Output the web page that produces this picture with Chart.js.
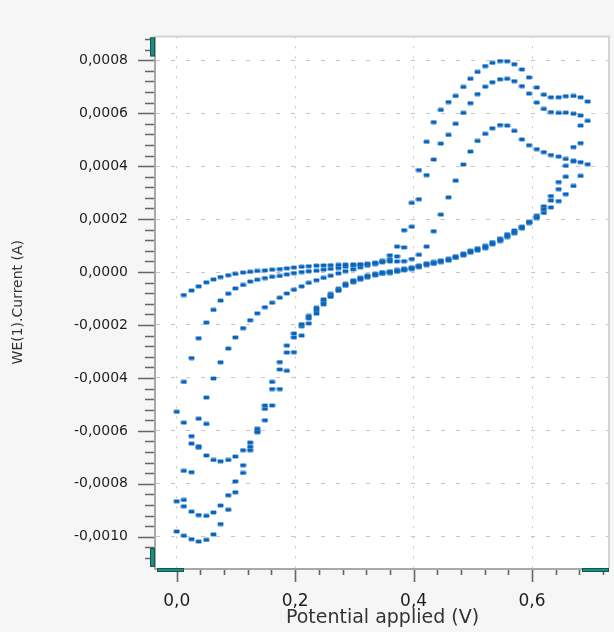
<!DOCTYPE html>
<html>
<head>
<meta charset="utf-8">
<style>
  html, body { margin: 0; padding: 0; background: #f6f6f6; }
  canvas { display: block; }
</style>
</head>
<body>
<canvas id="cv" width="614" height="632"></canvas>
<script src="https://cdn.jsdelivr.net/npm/chart.js@4.4.1/dist/chart.umd.min.js"></script>
<script>
// Potential steps of the scan (V), k = 0 ... 56
const potential = [
  0.000, 0.012, 0.025, 0.037, 0.050, 0.062, 0.074, 0.087, 0.099, 0.112,
  0.124, 0.136, 0.149, 0.161, 0.174, 0.186, 0.198, 0.211, 0.223, 0.236,
  0.248, 0.260, 0.273, 0.285, 0.298, 0.310, 0.322, 0.335, 0.347, 0.360,
  0.372, 0.384, 0.397, 0.409, 0.422, 0.434, 0.446, 0.459, 0.471, 0.484,
  0.496, 0.508, 0.521, 0.533, 0.546, 0.558, 0.570, 0.583, 0.595, 0.608,
  0.620, 0.632, 0.645, 0.657, 0.670, 0.682, 0.694
];

// Current in microamps, one value per potential step (null = no point)
// forward scans (increasing potential)
const forward1 = [
  null, -87, -70, -54, -39, -28, -19, -12, -7, -2,
  1, 4, 6, 9, 11, 14, 17, 20, 22, 24,
  25, 26, 27, 28, 29, 29, 31, 34, 37, 40,
  40, 41, 49, 65, 96, 154, 217, 282, 345, 406,
  455, 495, 522, 543, 555, 553, 533, 501, 479, 464,
  453, 442, 436, 427, 420, 415, 407
];
const forward2 = [
  null, -415, -325, -250, -191, -143, -108, -82, -62, -49,
  -36, -29, -23, -18, -15, -9, -4, 0, 3, 5,
  9, 12, 15, 20, 24, 27, 30, 35, 42, 48,
  59, 93, 171, 275, 366, 425, 485, 518, 560, 601,
  638, 672, 700, 717, 728, 730, 721, 702, 674, 640,
  616, 604, 601, 602, 598, 591, 571
];
const forward3 = [
  null, -751, -648, -554, -474, -402, -341, -289, -247, -212,
  -182, -156, -133, -116, -97, -81, -67, -54, -41, -31,
  -22, -14, -5, 3, 10, 18, 24, 30, 40, 63,
  96, 158, 261, 385, 492, 566, 612, 642, 665, 699,
  730, 756, 778, 790, 797, 796, 785, 765, 735, 697,
  670, 660, 660, 664, 665, 660, 644
];
// reverse scans (decreasing potential), listed by the same potential steps
const reverse1 = [
  -528, -569, -620, -658, -693, -710, -715, -710, -697, -673,
  -644, -605, -560, -504, -442, -373, -303, -240, -194, -157,
  -122, -94, -70, -49, -35, -25, -17, -10, -4, -1,
  4, 9, 14, 21, 29, 34, 40, 46, 56, 66,
  77, 85, 94, 108, 121, 137, 151, 168, 188, 204,
  223, 244, 268, 294, 325, 363, null
];
const reverse2 = [
  -866, -885, -905, -918, -921, -908, -882, -843, -791, -730,
  -660, -592, -504, -415, -340, -278, -232, -197, -166, -135,
  -103, -83, -63, -44, -31, -21, -13, -6, 0, 3,
  8, 13, 18, 25, 33, 38, 44, 50, 60, 70,
  81, 90, 99, 113, 127, 143, 157, 172, 190, 208,
  236, 270, 313, 360, 418, 487, null
];
const reverse3 = [
  -980, -996, -1009, -1018, -1012, -991, -952, -898, -832, -759,
  -673, -602, -517, -442, -368, -304, -247, -205, -175, -145,
  -112, -88, -68, -52, -39, -29, -21, -13, -7, -4,
  1, 6, 11, 18, 26, 31, 37, 43, 53, 62,
  73, 81, 90, 104, 117, 132, 146, 164, 185, 213,
  248, 287, 340, 401, 472, 553, null
];
// short run of points near the start of the third sweep
const extraPotential = [0.012, 0.025, 0.037, 0.050];
const extraCurrent = [-861, -756, -664, -574];

const xTicks = [0.0, 0.2, 0.4, 0.6];
const yTicks = [-1000, -800, -600, -400, -200, 0, 200, 400, 600, 800];

const FONT = 'DejaVu Sans';

function makeMarker() {
  const c = document.createElement('canvas');
  c.width = 7; c.height = 5;
  const g = c.getContext('2d');
  g.fillStyle = 'rgba(60, 135, 210, 0.5)';
  g.fillRect(0, 0, 7, 5);
  g.clearRect(0, 0, 1, 1); g.clearRect(6, 0, 1, 1);
  g.clearRect(0, 4, 1, 1); g.clearRect(6, 4, 1, 1);
  g.fillStyle = '#0a63bb';
  g.fillRect(1, 1, 5, 3);
  return c;
}
const marker = makeMarker();

function toPoints(xs, ys) {
  return ys.map((y, i) => (y === null ? null : { x: xs[i], y: y })).filter(p => p);
}

const series = [forward1, forward2, forward3, reverse1, reverse2, reverse3];
const datasets = series.map(s => ({ data: toPoints(potential, s) }));
datasets.push({ data: toPoints(extraPotential, extraCurrent) });
datasets.forEach(d => {
  d.pointStyle = marker;
  d.pointRadius = 3;
  d.showLine = false;
});

// background, frame, tick marks and the little teal handles
const framePlugin = {
  id: 'frame',
  beforeDraw(chart) {
    const { ctx, chartArea: a } = chart;
    ctx.save();
    ctx.fillStyle = '#f6f6f6';
    ctx.fillRect(0, 0, chart.width, chart.height);
    ctx.fillStyle = '#ffffff';
    ctx.fillRect(a.left, a.top, a.right - a.left, a.bottom - a.top);
    ctx.restore();
  },
  afterDraw(chart) {
    const { ctx, chartArea: a } = chart;
    const xs = chart.scales.x, ys = chart.scales.y;
    ctx.save();

    ctx.lineWidth = 2;
    ctx.strokeStyle = '#d4d4d4';
    ctx.beginPath();
    ctx.moveTo(a.left, a.top);
    ctx.lineTo(a.right, a.top);
    ctx.lineTo(a.right, a.bottom);
    ctx.stroke();

    ctx.strokeStyle = '#a8a8a8';
    ctx.beginPath();
    ctx.moveTo(a.left - 1, a.top);
    ctx.lineTo(a.left - 1, a.bottom + 1);
    ctx.lineTo(a.right, a.bottom + 1);
    ctx.stroke();

    // tick marks (major + minor)
    ctx.strokeStyle = '#666';
    ctx.lineWidth = 1.6;
    ctx.beginPath();
    for (let i = -28; i <= 23; i++) {
      const v = i * 40;
      if (v < ys.min || v > ys.max) continue;
      const py = Math.round(ys.getPixelForValue(v)) + 0.5;
      const len = (v % 200 === 0) ? 16 : 9;
      ctx.moveTo(a.left - 2 - len, py);
      ctx.lineTo(a.left - 2, py);
    }
    for (let i = 0; i <= 18; i++) {
      const v = i * 0.04;
      if (v < xs.min || v > xs.max) continue;
      const px = Math.round(xs.getPixelForValue(v)) + 0.5;
      const len = (i % 5 === 0) ? 12 : 5;
      ctx.moveTo(px, a.bottom + 2);
      ctx.lineTo(px, a.bottom + 2 + len);
    }
    ctx.stroke();

    // teal handles
    ctx.fillStyle = '#1f8c7c';
    ctx.strokeStyle = '#0c5a50';
    ctx.lineWidth = 1;
    [
      [a.left - 6, a.top + 1, 5, 19],
      [a.left - 6, a.bottom - 20, 5, 19],
      [a.left + 1, a.bottom, 27, 4],
      [a.right - 27, a.bottom, 27, 4]
    ].forEach(r => {
      ctx.fillRect(r[0], r[1], r[2], r[3]);
      ctx.strokeRect(r[0] + 0.5, r[1] + 0.5, r[2] - 1, r[3] - 1);
    });
    ctx.restore();
  }
};

new Chart(document.getElementById('cv'), {
  type: 'scatter',
  data: { datasets },
  plugins: [framePlugin],
  options: {
    responsive: false,
    animation: false,
    devicePixelRatio: 1,
    events: [],
    layout: { padding: { top: 31, right: 4, left: 0, bottom: 0 } },
    plugins: {
      legend: { display: false },
      tooltip: { enabled: false }
    },
    scales: {
      x: {
        type: 'linear',
        min: -0.035,
        max: 0.730,
        afterBuildTicks: s => { s.ticks = xTicks.map(v => ({ value: v })); },
        afterFit: s => { s.height = 64; },
        ticks: {
          callback: v => v.toFixed(1).replace('.', ','),
          font: { family: FONT, size: 17 },
          color: '#1e1e1e',
          padding: 23,
          maxRotation: 0,
          autoSkip: false
        },
        grid: { color: '#c6c6c6', lineWidth: 1, drawTicks: false },
        border: { display: false, dash: [2, 8] },
        title: {
          display: true,
          text: 'Potential applied (V)',
          font: { family: FONT, size: 19 },
          color: '#333',
          padding: { top: 0, bottom: 3 }
        }
      },
      y: {
        type: 'linear',
        min: -1118,
        max: 890,
        afterBuildTicks: s => { s.ticks = yTicks.map(v => ({ value: v })); },
        afterFit: s => { s.width = 156; },
        ticks: {
          callback: v => (v / 1e6).toFixed(4).replace('.', ','),
          font: { family: FONT, size: 14 },
          color: '#1e1e1e',
          padding: 28,
          autoSkip: false
        },
        grid: { color: '#c6c6c6', lineWidth: 1, drawTicks: false },
        border: { display: false, dash: [4, 11] },
        title: {
          display: true,
          text: 'WE(1).Current (A)',
          font: { family: FONT, size: 14 },
          color: '#333',
          padding: { top: 10, bottom: 0 }
        }
      }
    }
  }
});
</script>
</body>
</html>
